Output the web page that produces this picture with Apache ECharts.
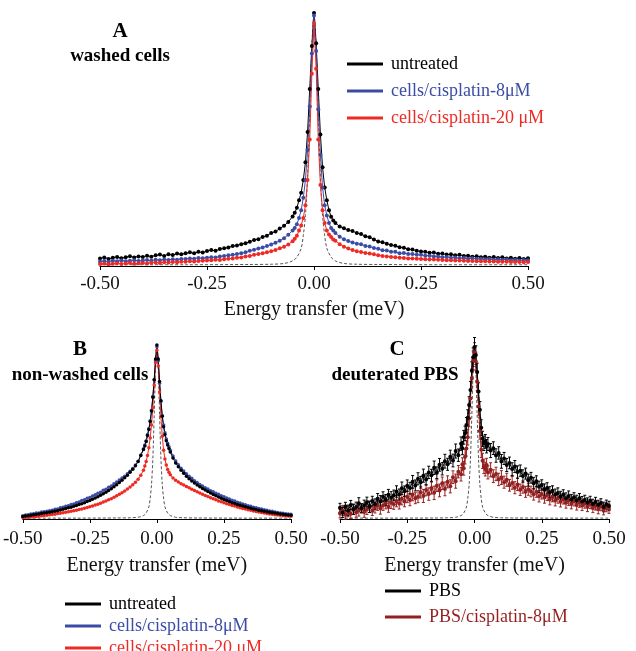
<!DOCTYPE html>
<html>
<head>
<meta charset="utf-8">
<script src="https://cdn.jsdelivr.net/npm/echarts@6/dist/echarts.min.js"></script>
<style>
  html, body { margin: 0; background: #fff; }
  #chart { width: 636px; height: 651px; }
</style>
</head>
<body>
<div id="chart"></div>
<script>
// energy transfer grid (meV), shared by the measured curves
const energy = [
  -0.50, -0.49, -0.48, -0.47, -0.46, -0.45, -0.44, -0.43, -0.42, -0.41,
  -0.40, -0.39, -0.38, -0.37, -0.36, -0.35, -0.34, -0.33, -0.32, -0.31,
  -0.30, -0.29, -0.28, -0.27, -0.26, -0.25, -0.24, -0.23, -0.22, -0.21,
  -0.20, -0.19, -0.18, -0.17, -0.16, -0.15, -0.14, -0.13, -0.12, -0.11,
  -0.10, -0.09, -0.08, -0.07, -0.06, -0.05,
  -0.045, -0.04, -0.035, -0.03, -0.025, -0.02, -0.015, -0.01, -0.005, 0,
  0.005, 0.01, 0.015, 0.02, 0.025, 0.03, 0.035, 0.04, 0.045,
  0.05, 0.06, 0.07, 0.08, 0.09, 0.10,
  0.11, 0.12, 0.13, 0.14, 0.15, 0.16, 0.17, 0.18, 0.19, 0.20,
  0.21, 0.22, 0.23, 0.24, 0.25, 0.26, 0.27, 0.28, 0.29, 0.30,
  0.31, 0.32, 0.33, 0.34, 0.35, 0.36, 0.37, 0.38, 0.39, 0.40,
  0.41, 0.42, 0.43, 0.44, 0.45, 0.46, 0.47, 0.48, 0.49, 0.50
];

// A - washed cells (intensity, % of peak)
const aUntreated = [
  3.0, 3.4, 2.8, 3.3, 3.6, 3.1, 3.5, 3.9, 3.4, 3.8,
  3.6, 4.1, 3.7, 4.2, 4.5, 4.0, 4.6, 4.3, 4.9, 4.6,
  5.0, 5.4, 5.0, 5.6, 5.3, 5.9, 6.3, 6.0, 6.7, 7.0,
  7.3, 7.9, 8.1, 8.6, 9.0, 9.6, 10.3, 10.6, 11.5, 12.0,
  13.0, 13.6, 14.8, 15.9, 17.4, 19.6,
  21, 23, 26, 29, 34, 41, 53, 70, 87, 100,
  88, 70, 52, 39, 31, 26, 22, 19.5, 18,
  17.0, 15.6, 14.9, 14.2, 13.8, 13.0,
  12.6, 11.8, 11.4, 10.5, 9.7, 9.4, 8.8, 8.3, 8.0, 7.4,
  7.2, 6.6, 6.5, 6.0, 5.7, 5.6, 5.2, 5.3, 4.8, 4.9,
  4.5, 4.6, 4.2, 4.4, 4.0, 4.1, 3.7, 3.9, 3.5, 3.7,
  3.3, 3.6, 3.2, 3.5, 3.0, 3.3, 2.9, 3.2, 2.8, 3.1
];
const aCis8 = [
  1.8, 2.0, 1.7, 2.1, 1.9, 2.2, 1.9, 2.1, 2.3, 2.0,
  2.2, 2.4, 2.1, 2.5, 2.3, 2.6, 2.4, 2.7, 2.5, 2.8,
  2.8, 3.0, 2.9, 3.2, 3.1, 3.3, 3.5, 3.4, 3.8, 4.0,
  4.2, 4.4, 4.7, 5.0, 5.4, 6.0, 6.4, 6.9, 7.3, 7.9,
  8.5, 9.2, 10.0, 11.0, 12.4, 14.0,
  15, 16.5, 19, 22, 27, 34, 46, 63, 84, 99,
  85, 62, 44, 31, 24, 20, 17, 15, 14,
  13.0, 11.6, 10.6, 9.9, 9.3, 8.8,
  8.6, 7.9, 7.7, 7.1, 6.8, 6.2, 6.1, 5.6, 5.6, 5.0,
  5.1, 4.7, 4.7, 4.4, 4.4, 4.1, 4.1, 3.8, 3.8, 3.5,
  3.6, 3.3, 3.4, 3.1, 3.2, 2.9, 3.1, 2.8, 2.9, 2.7,
  2.8, 2.5, 2.7, 2.4, 2.6, 2.3, 2.5, 2.2, 2.4, 2.3
];
const aCis20 = [
  0.8, 1.0, 0.7, 0.9, 1.1, 0.8, 1.0, 1.2, 0.9, 1.1,
  1.2, 1.0, 1.3, 1.4, 1.2, 1.5, 1.4, 1.6, 1.5, 1.7,
  1.7, 1.9, 1.8, 2.0, 2.1, 2.2, 2.3, 2.5, 2.4, 2.7,
  2.9, 3.0, 3.3, 3.4, 3.8, 4.0, 4.4, 4.7, 5.0, 5.4,
  5.8, 6.3, 7.0, 7.6, 8.5, 9.8,
  10.8, 12, 14, 16, 19, 24, 34, 50, 76, 96,
  78, 50, 32, 22, 17, 14, 12.5, 11.5, 10.5,
  10.0, 8.6, 7.6, 6.9, 6.3, 5.8,
  5.5, 5.1, 4.9, 4.6, 4.2, 4.0, 3.8, 3.6, 3.5, 3.3,
  3.2, 3.0, 3.0, 2.9, 2.8, 2.7, 2.6, 2.6, 2.5, 2.4,
  2.3, 2.3, 2.2, 2.2, 2.1, 2.0, 2.0, 1.9, 1.9, 1.9,
  1.8, 1.8, 1.7, 1.7, 1.7, 1.6, 1.6, 1.6, 1.5, 1.6
];

// B - non-washed cells
const bUntreated = [
  1.5, 1.7, 1.9, 2.2, 2.4, 2.6, 2.9, 3.1, 3.4, 3.6,
  3.9, 4.2, 4.5, 4.8, 5.2, 5.6, 6.0, 6.4, 6.8, 7.3,
  7.8, 8.3, 8.8, 9.4, 10.0, 10.6, 11.3, 12.0, 12.8, 13.6,
  14.5, 15.4, 16.4, 17.4, 18.5, 19.7, 21.0, 22.3, 23.7, 25.2,
  26.8, 28.6, 30.6, 33.0, 36.5, 40.0,
  42, 44.5, 48, 51.5, 56, 62, 70, 80, 92, 100,
  92, 79, 68, 59, 53, 48.5, 45, 42.5, 40.5,
  38.5, 35.0, 32.2, 30.0, 28.0, 26.3,
  24.6, 23.2, 21.9, 20.7, 19.6, 18.6, 17.6, 16.7, 15.8, 14.9,
  14.1, 13.3, 12.6, 11.9, 11.2, 10.6, 10.0, 9.4, 8.9, 8.4,
  7.9, 7.4, 7.0, 6.6, 6.2, 5.8, 5.5, 5.1, 4.8, 4.5,
  4.2, 3.9, 3.6, 3.4, 3.2, 2.9, 2.7, 2.5, 2.3, 2.1
];
const bCis8 = [
  1.9, 2.3, 2.4, 2.9, 3.0, 3.4, 3.5, 4.0, 4.1, 4.5,
  4.8, 5.1, 5.6, 5.8, 6.4, 6.7, 7.3, 7.6, 8.3, 8.6,
  9.4, 9.8, 10.6, 11.0, 11.9, 12.4, 13.2, 13.9, 14.8, 15.4,
  16.5, 17.1, 18.3, 19.0, 20.3, 21.2, 22.4, 23.6, 24.6, 26.0,
  27.4, 29.0, 31.0, 33.2, 36.8, 40.4,
  42.5, 45, 48.5, 52, 56.5, 62.5, 70.5, 80, 91, 99,
  91, 78, 67.5, 59.5, 54, 49.5, 46, 43.5, 41.5,
  39.5, 36.2, 33.4, 31.2, 29.2, 27.6,
  26.0, 24.5, 23.4, 22.0, 21.0, 19.8, 19.0, 17.9, 17.3, 16.3,
  15.7, 14.8, 14.2, 13.3, 12.8, 12.0, 11.5, 10.8, 10.3, 9.6,
  9.2, 8.6, 8.2, 7.6, 7.3, 6.8, 6.4, 6.0, 5.7, 5.3,
  5.0, 4.6, 4.4, 4.0, 3.8, 3.5, 3.3, 3.0, 2.9, 2.7
];
const bCis20 = [
  0.8, 0.9, 1.0, 1.2, 1.3, 1.5, 1.6, 1.8, 2.0, 2.2,
  2.4, 2.6, 2.8, 3.1, 3.3, 3.6, 3.9, 4.2, 4.5, 4.8,
  5.1, 5.5, 5.8, 6.2, 6.6, 7.0, 7.5, 8.0, 8.5, 9.1,
  9.7, 10.3, 11.0, 11.7, 12.5, 13.3, 14.2, 15.1, 16.1, 17.2,
  18.4, 19.7, 21.1, 22.8, 25.2, 28.0,
  30.5, 33, 36.5, 41, 46.5, 54, 64, 77, 90, 97,
  88, 73, 59, 47.5, 39.5, 34.5, 31, 28.5, 26.8,
  25.5, 23.6, 22.3, 21.2, 20.3, 19.5,
  18.7, 17.9, 17.1, 16.4, 15.6, 14.9, 14.2, 13.5, 12.9, 12.2,
  11.6, 11.0, 10.4, 9.9, 9.3, 8.8, 8.3, 7.8, 7.4, 6.9,
  6.5, 6.1, 5.7, 5.3, 5.0, 4.6, 4.3, 4.0, 3.7, 3.4,
  3.1, 2.9, 2.7, 2.5, 2.3, 2.1, 1.9, 1.8, 1.7, 1.6
];

// C - deuterated PBS
const cPbs = [
  6.5, 3.8, 7.2, 5.0, 8.1, 5.6, 7.0, 9.2, 6.3, 8.0,
  9.8, 7.1, 10.4, 8.6, 11.8, 10.2, 12.9, 11.0, 14.1, 12.4,
  13.8, 16.0, 14.2, 17.9, 16.1, 19.3, 18.0, 21.6, 19.5, 23.4,
  21.4, 25.2, 23.0, 27.1, 25.4, 29.8, 26.9, 31.5, 29.2, 33.6,
  31.8, 36.2, 34.0, 39.5, 37.1, 43.8,
  41.2, 47.5, 49.8, 54.6, 58.9, 66.3, 75.0, 86.2, 94.1, 100,
  95.3, 85.4, 74.2, 63.5, 53.1, 46.6, 44.0, 45.1, 42.3,
  43.6, 39.8, 41.2, 36.9, 38.4, 33.5,
  35.2, 31.4, 32.6, 29.0, 30.5, 27.3, 28.1, 25.0, 26.4, 22.6,
  24.0, 20.8, 21.9, 18.7, 19.8, 17.1, 18.0, 15.6, 16.4, 14.2,
  15.1, 13.0, 14.2, 12.1, 13.4, 11.3, 12.6, 10.8, 12.0, 10.2,
  11.1, 9.4, 10.6, 8.7, 9.9, 8.1, 9.3, 7.0, 8.4, 7.6
];
const cPbsCis8 = [
  3.2, 5.0, 2.4, 4.4, 3.0, 5.6, 3.8, 4.9, 6.1, 4.0,
  5.5, 7.0, 4.8, 6.6, 8.0, 6.2, 7.9, 9.1, 7.0, 9.6,
  8.6, 10.4, 9.0, 11.8, 10.2, 12.9, 11.0, 14.3, 12.1, 13.0,
  15.6, 13.4, 16.8, 14.5, 18.0, 15.2, 19.4, 16.6, 20.8, 17.5,
  21.6, 19.0, 24.3, 22.0, 27.5, 26.0,
  31.8, 29.5, 36.2, 41.0, 47.6, 58.4, 70.1, 82.0, 92.3, 97,
  91.6, 79.8, 65.4, 51.2, 40.3, 33.8, 30.6, 29.0, 31.4,
  27.1, 28.6, 24.9, 26.2, 23.0, 24.1,
  21.4, 22.8, 19.6, 21.0, 18.2, 20.1, 17.0, 18.6, 15.8, 17.3,
  16.0, 14.4, 15.8, 13.2, 14.6, 12.5, 13.8, 11.4, 12.9, 10.8,
  12.2, 10.1, 11.5, 9.4, 10.8, 8.9, 10.3, 8.2, 9.6, 7.8,
  9.0, 7.2, 8.6, 6.5, 7.9, 5.8, 7.3, 5.2, 6.8, 6.0
];
// C - error bar half-widths (% of peak)
const cError = [
  2.6, 2.9, 2.5, 3.1, 2.7, 3.0, 2.8, 3.2, 2.6, 3.0,
  2.9, 3.3, 2.8, 3.1, 3.0, 3.4, 2.9, 3.2, 3.1, 3.5,
  3.0, 3.3, 3.2, 3.6, 3.1, 3.4, 3.3, 3.7, 3.2, 3.5,
  3.4, 3.8, 3.3, 3.6, 3.5, 3.9, 3.4, 3.7, 3.6, 4.0,
  3.5, 3.8, 3.7, 4.1, 3.6, 3.9,
  3.8, 4.0, 4.2, 4.4, 4.6, 4.8, 5.0, 5.2, 5.4, 5.5,
  5.4, 5.2, 5.0, 4.8, 4.6, 4.4, 4.2, 4.0, 3.9,
  3.8, 4.1, 3.7, 3.9, 3.6, 4.0,
  3.5, 3.8, 3.4, 3.7, 3.5, 3.6, 3.3, 3.6, 3.2, 3.5,
  3.1, 3.4, 3.2, 3.3, 3.0, 3.3, 3.1, 3.2, 2.9, 3.2,
  3.0, 3.1, 2.8, 3.1, 2.9, 3.0, 2.7, 3.0, 2.8, 2.9,
  2.7, 2.9, 2.6, 2.8, 2.7, 2.8, 2.5, 2.8, 2.6, 2.7
];

// instrumental resolution (dashed)
const resEnergy = [
  -0.5, -0.3, -0.15, -0.1, -0.07, -0.05, -0.04, -0.03, -0.025, -0.02, -0.015, -0.01, -0.005,
  0, 0.005, 0.01, 0.015, 0.02, 0.025, 0.03, 0.04, 0.05, 0.07, 0.1, 0.15, 0.3, 0.5
];
const resolution = [
  0.5, 0.5, 0.6, 0.7, 1.0, 2.0, 3.5, 7, 12, 20, 35, 60, 87,
  100, 87, 60, 35, 20, 12, 7, 3.5, 2.0, 1.0, 0.7, 0.6, 0.5, 0.5
];

[aUntreated, aCis8, aCis20, bUntreated, bCis8, bCis20, cPbs, cPbsCis8, cError].forEach((s, i) => {
  if (s.length !== energy.length) throw new Error('series ' + i + ' has ' + s.length + ' points');
});

const BLACK = '#000000';
const BLUE = '#3b4ca6';
const RED = '#ee2a24';
const DARKRED = '#951f1f';
const serif = 'Liberation Serif';

const pairs = (xs, ys) => xs.map((x, i) => [x, ys[i]]);

const chart = echarts.init(document.getElementById('chart'));

const grids = [
  { left: 100, top: 13, width: 428, height: 253 },
  { left: 21, top: 345, width: 270, height: 174 },
  { left: 340, top: 347, width: 269, height: 172 },
];
const labelMargins = [9, 11, 11];
const nameGaps = [34, 37, 37];

const measured = (name, data, color, panel, size) => ({
  name,
  type: 'line',
  xAxisIndex: panel,
  yAxisIndex: panel,
  data: pairs(energy, data),
  symbol: 'circle',
  symbolSize: size || 4,
  color,
  lineStyle: { width: 1, color },
  itemStyle: { color },
  clip: false,
});

// vertical error bars with small caps
const errorBars = (name, data, errs, color, panel) => ({
  name: name + ' error',
  type: 'custom',
  xAxisIndex: panel,
  yAxisIndex: panel,
  silent: true,
  color,
  itemStyle: { color },
  data: energy.map((x, i) => [x, data[i] - errs[i], data[i] + errs[i]]),
  renderItem: (params, api) => {
    const lo = api.coord([api.value(0), api.value(1)]);
    const hi = api.coord([api.value(0), api.value(2)]);
    const st = { stroke: color, lineWidth: 1 };
    return {
      type: 'group',
      children: [
        { type: 'line', shape: { x1: lo[0], y1: lo[1], x2: hi[0], y2: hi[1] }, style: st },
        { type: 'line', shape: { x1: hi[0] - 1.5, y1: hi[1], x2: hi[0] + 1.5, y2: hi[1] }, style: st },
        { type: 'line', shape: { x1: lo[0] - 1.5, y1: lo[1], x2: lo[0] + 1.5, y2: lo[1] }, style: st },
      ],
    };
  },
});

const dashed = (panel) => ({
  name: 'resolution',
  type: 'line',
  xAxisIndex: panel,
  yAxisIndex: panel,
  data: pairs(resEnergy, resolution),
  symbol: 'none',
  smooth: 0.3,
  lineStyle: { width: 1, color: '#555', type: [3, 2] },
  z: 1,
});

const legendBase = {
  orient: 'vertical',
  icon: 'rect',
  itemWidth: 36,
  itemHeight: 3,
  padding: 0,
  height: 90,
  textStyle: { fontFamily: serif, fontSize: 18, lineHeight: 18, padding: [0, 0, 0, 3] },
};

const option = {
  animation: false,
  backgroundColor: '#fff',
  grid: grids,
  xAxis: grids.map((g, i) => ({
    gridIndex: i,
    type: 'value',
    min: -0.5,
    max: 0.5,
    interval: 0.25,
    name: 'Energy transfer (meV)',
    nameLocation: 'middle',
    nameGap: nameGaps[i],
    nameTextStyle: { fontFamily: serif, fontSize: 20, color: '#111' },
    axisLine: { onZero: false, lineStyle: { color: '#000', width: 1 } },
    axisTick: { length: 4, lineStyle: { color: '#000' } },
    axisLabel: {
      fontFamily: serif, fontSize: 19, color: '#111', margin: labelMargins[i],
      formatter: (v) => v.toFixed(2),
    },
    splitLine: { show: false },
  })),
  yAxis: grids.map((g, i) => ({
    gridIndex: i, type: 'value', min: 0, max: 100, show: false,
  })),
  legend: [
    {
      ...legendBase, left: 347, top: 55, itemGap: 9,
      data: [
        { name: 'untreated', textStyle: { color: BLACK } },
        { name: 'cells/cisplatin-8μM', textStyle: { color: BLUE } },
        { name: 'cells/cisplatin-20 μM', textStyle: { color: RED } },
      ],
    },
    {
      ...legendBase, left: 65, top: 595, itemGap: 4,
      data: [
        { name: 'untreated', textStyle: { color: BLACK } },
        { name: 'cells/cisplatin-8μM', textStyle: { color: BLUE } },
        { name: 'cells/cisplatin-20 μM', textStyle: { color: RED } },
      ],
    },
    {
      ...legendBase, left: 385, top: 582, itemGap: 8,
      data: [
        { name: 'PBS', textStyle: { color: BLACK } },
        { name: 'PBS/cisplatin-8μM', textStyle: { color: DARKRED } },
      ],
    },
  ],
  graphic: [
    { type: 'text', x: 120, y: 32, style: { text: 'A', fontFamily: serif, fontWeight: 'bold', fontSize: 21, fill: '#000', align: 'center', verticalAlign: 'middle' } },
    { type: 'text', x: 120, y: 56, style: { text: 'washed cells', fontFamily: serif, fontWeight: 'bold', fontSize: 19, fill: '#000', align: 'center', verticalAlign: 'middle' } },
    { type: 'text', x: 80, y: 350, style: { text: 'B', fontFamily: serif, fontWeight: 'bold', fontSize: 21, fill: '#000', align: 'center', verticalAlign: 'middle' } },
    { type: 'text', x: 80, y: 375, style: { text: 'non-washed cells', fontFamily: serif, fontWeight: 'bold', fontSize: 19, fill: '#000', align: 'center', verticalAlign: 'middle' } },
    { type: 'text', x: 397, y: 350, style: { text: 'C', fontFamily: serif, fontWeight: 'bold', fontSize: 21, fill: '#000', align: 'center', verticalAlign: 'middle' } },
    { type: 'text', x: 395, y: 375, style: { text: 'deuterated PBS', fontFamily: serif, fontWeight: 'bold', fontSize: 19, fill: '#000', align: 'center', verticalAlign: 'middle' } },
  ],
  series: [
    dashed(0),
    measured('untreated', aUntreated, BLACK, 0),
    measured('cells/cisplatin-8μM', aCis8, BLUE, 0),
    measured('cells/cisplatin-20 μM', aCis20, RED, 0),
    dashed(1),
    measured('cells/cisplatin-8μM', bCis8, BLUE, 1, 3.5),
    measured('cells/cisplatin-20 μM', bCis20, RED, 1, 3.5),
    measured('untreated', bUntreated, BLACK, 1, 3.5),
    dashed(2),
    measured('PBS/cisplatin-8μM', cPbsCis8, DARKRED, 2),
    errorBars('PBS/cisplatin-8μM', cPbsCis8, cError, DARKRED, 2),
    measured('PBS', cPbs, BLACK, 2),
    errorBars('PBS', cPbs, cError, BLACK, 2),
  ],
};

chart.setOption(option);
</script>
</body>
</html>
